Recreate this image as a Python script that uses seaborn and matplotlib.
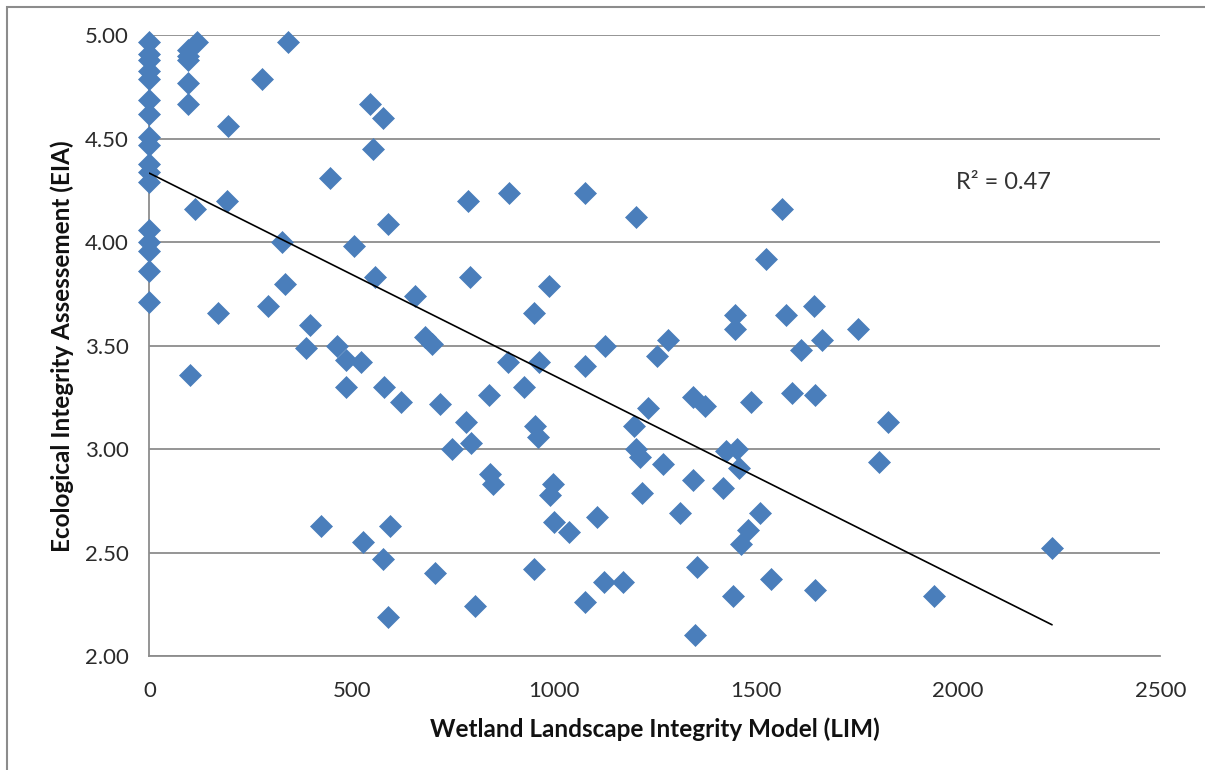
import numpy as np
import pandas as pd
import matplotlib
matplotlib.use("Agg")
import matplotlib.pyplot as plt
import seaborn as sns
from matplotlib.patches import Rectangle

# LIM score (x) and EIA score (y)
lim = [0, 0, 0, 0, 0, 0, 0, 0, 0, 0, 0, 0, 0, 0, 0, 0, 0,
       117, 96, 96, 96, 96, 96, 100, 112,
       194, 278, 342, 545, 578, 553, 446, 193, 590, 327, 506, 335, 559, 656,
       170, 292, 397, 387, 464, 486, 523, 681, 700, 486, 580, 623,
       424, 529, 596, 578, 590, 706,
       787, 890, 1077, 1203, 792, 988, 951, 1126, 1283, 1255, 887, 964, 1077,
       718, 840, 927, 782, 953, 960, 749, 795, 842, 850, 998, 990, 1000, 1037,
       1108, 1233, 1199, 1204, 1213, 1270, 1218, 1311, 1344, 1344, 951, 805,
       1077, 1124, 1171, 1353, 1349,
       1564, 1524, 1447, 1447, 1574, 1644, 1664, 1751, 1610, 1373, 1487, 1589,
       1645, 1826, 1803, 1427, 1452, 1458, 1419, 1509, 1480, 1464, 1536, 1443,
       1647, 1940, 2232]
eia = [4.97, 4.91, 4.88, 4.83, 4.79, 4.69, 4.62, 4.51, 4.47, 4.38, 4.34, 4.29,
       4.06, 4.00, 3.96, 3.86, 3.71,
       4.97, 4.93, 4.90, 4.88, 4.77, 4.67, 3.36, 4.16,
       4.56, 4.79, 4.97, 4.67, 4.60, 4.45, 4.31, 4.20, 4.09, 4.00, 3.98, 3.80,
       3.83, 3.74, 3.66, 3.69, 3.60, 3.49, 3.50, 3.43, 3.42, 3.54, 3.51, 3.30,
       3.30, 3.23, 2.63, 2.55, 2.63, 2.47, 2.19, 2.40,
       4.20, 4.24, 4.24, 4.12, 3.83, 3.79, 3.66, 3.50, 3.53, 3.45, 3.42, 3.42,
       3.40, 3.22, 3.26, 3.30, 3.13, 3.11, 3.06, 3.00, 3.03, 2.88, 2.83, 2.83,
       2.78, 2.65, 2.60, 2.67, 3.20, 3.11, 3.00, 2.96, 2.93, 2.79, 2.69, 3.25,
       2.85, 2.42, 2.24, 2.26, 2.36, 2.36, 2.43, 2.10,
       4.16, 3.92, 3.65, 3.58, 3.65, 3.69, 3.53, 3.58, 3.48, 3.21, 3.23, 3.27,
       3.26, 3.13, 2.94, 2.99, 3.00, 2.91, 2.81, 2.69, 2.61, 2.54, 2.37, 2.29,
       2.32, 2.29, 2.52]

# linear trendline as shown in the chart (slope, intercept) and its R²
trend_coef = [-0.000978, 4.334]
r2_label = "R² = 0.47"

df = pd.DataFrame({"LIM": lim, "EIA": eia})
trend_x = np.array([min(lim), max(lim)])
trend = pd.DataFrame({"LIM": trend_x, "EIA": np.polyval(trend_coef, trend_x)})

sns.set_style("white")
plt.rcParams["font.family"] = ["Lato", "DejaVu Sans"]

fig = plt.figure(figsize=(12.05, 7.7), dpi=100)
ax = fig.add_axes([0.124, 0.148, 0.839, 0.806])

grid_col = "#8c8c8c"
ax.set_axisbelow(True)
ax.yaxis.grid(True, color=grid_col, linewidth=1.3)
ax.xaxis.grid(False)

sns.scatterplot(data=df, x="LIM", y="EIA", marker="D", s=125,
                color="#4a7ebb", edgecolor="#4a7ebb", linewidth=0.5,
                clip_on=False, zorder=3, ax=ax)
sns.lineplot(data=trend, x="LIM", y="EIA", color="black", linewidth=1.2,
             zorder=4, ax=ax)

ax.set_xlim(0, 2500)
ax.set_ylim(2.0, 5.0)
ax.set_xticks(np.arange(0, 2501, 500))
ax.set_yticks(np.arange(2.0, 5.01, 0.5))
ax.set_yticklabels([f"{v:.2f}" for v in np.arange(2.0, 5.01, 0.5)])

for side in ["top", "right"]:
    ax.spines[side].set_visible(False)
for side in ["left", "bottom"]:
    ax.spines[side].set_color(grid_col)
    ax.spines[side].set_linewidth(1.3)

ax.tick_params(axis="both", which="major", length=6, width=1.3, color=grid_col,
               labelsize=16, labelcolor="#2b2b2b", direction="out")
ax.tick_params(axis="x", pad=12)
ax.tick_params(axis="y", pad=9)

ax.set_xlabel("Wetland Landscape Integrity Model (LIM)", fontsize=17.5,
              fontweight="bold", labelpad=12, color="#111111")
ax.set_ylabel("Ecological Integrity Assessement (EIA)", fontsize=17.5,
              fontweight="bold", labelpad=8, color="#111111")

ax.text(1995, 4.26, r2_label, fontsize=17, color="#333333")

# chart-area border
fig.patches.append(Rectangle((7 / 1205, -0.05), 1.2, 1 - 7 / 770 + 0.05,
                             transform=fig.transFigure, fill=False,
                             edgecolor="#8c8c8c", linewidth=1.5))

fig.savefig("out.png", dpi=100)
